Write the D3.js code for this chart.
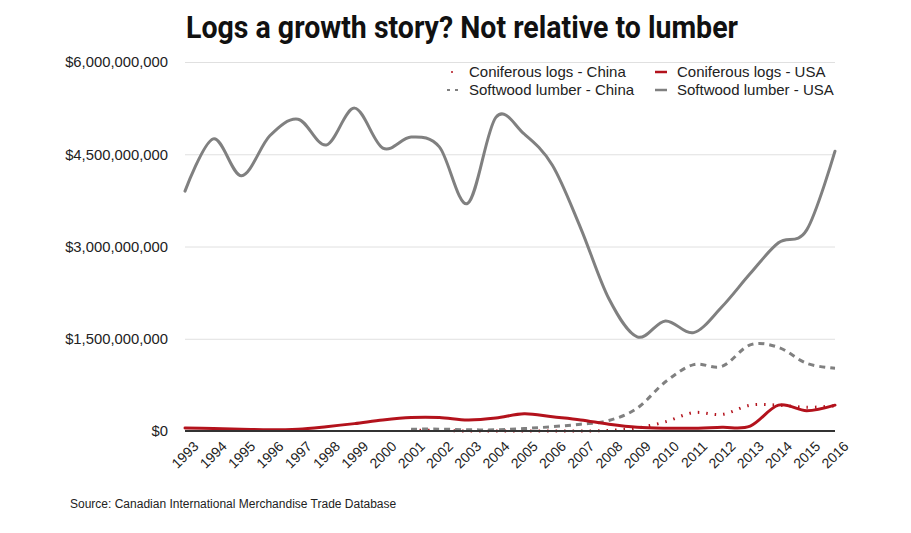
<!DOCTYPE html>
<html>
<head>
<meta charset="utf-8">
<script src="https://cdn.jsdelivr.net/npm/d3@7"></script>
<style>
  body { margin: 0; background: #fff; }
  text { font-family: "Liberation Sans", Arial, sans-serif; fill: #222; }
</style>
</head>
<body>
<svg width="911" height="533"></svg>
<script>
var years = d3.range(1993, 2017);
var yTicks = [0, 1.5e9, 3e9, 4.5e9, 6e9];

// values in billions of dollars
var softwoodUSA = [3.9, 4.75, 4.15, 4.8, 5.07, 4.65, 5.25, 4.6, 4.78, 4.62, 3.7, 5.1,
                   4.83, 4.32, 3.3, 2.15, 1.53, 1.79, 1.6, 2.02, 2.56, 3.06, 3.27, 4.55];
var softwoodChina = [null, null, null, null, null, null, null, null, 0.03, 0.03, 0.02, 0.02,
                     0.04, 0.07, 0.11, 0.17, 0.37, 0.8, 1.08, 1.05, 1.4, 1.36, 1.1, 1.02];
var logsUSA = [0.05, 0.04, 0.03, 0.02, 0.03, 0.07, 0.12, 0.18, 0.22, 0.22, 0.18, 0.21,
               0.28, 0.23, 0.18, 0.11, 0.06, 0.045, 0.045, 0.06, 0.08, 0.42, 0.33, 0.42];
var logsChina = [null, null, null, null, null, null, null, null, 0.01, 0.01, 0.0, 0.0,
                 0.0, 0.0, 0.0, 0.01, 0.05, 0.15, 0.3, 0.27, 0.42, 0.42, 0.385, 0.41];

var red = "#b3121c", grey = "#808080";

var series = [
  {name: "Coniferous logs - China", values: logsChina, color: red, dash: "1.5,7", width: 3},
  {name: "Softwood lumber - China", values: softwoodChina, color: grey, dash: "6,5", width: 3},
  {name: "Coniferous logs - USA", values: logsUSA, color: red, dash: null, width: 3},
  {name: "Softwood lumber - USA", values: softwoodUSA, color: grey, dash: null, width: 3}
];

var svg = d3.select("svg"),
    margin = {top: 62, right: 76, bottom: 102, left: 185},
    width = +svg.attr("width") - margin.left - margin.right,
    height = +svg.attr("height") - margin.top - margin.bottom;

var x = d3.scaleLinear().domain([1993, 2016]).range([0, width]),
    y = d3.scaleLinear().domain([0, 6e9]).range([height, 0]);

svg.append("text")
    .attr("x", 186)
    .attr("y", 38)
    .attr("textLength", 552)
    .attr("lengthAdjust", "spacingAndGlyphs")
    .style("font-family", "Roboto, sans-serif")
    .style("font-weight", "bold")
    .style("font-size", "32px")
    .style("fill", "#111")
    .text("Logs a growth story? Not relative to lumber");

var g = svg.append("g")
    .attr("transform", "translate(" + margin.left + "," + margin.top + ")");

// gridlines + y labels
var yAxis = g.append("g")
    .call(d3.axisLeft(y).tickValues(yTicks).tickSize(-width)
      .tickFormat(function(d) { return "$" + d3.format(",")(d); }));
yAxis.select(".domain").remove();
yAxis.selectAll(".tick line").attr("stroke", "#e0e0e0");
yAxis.selectAll(".tick text")
    .attr("x", -17)
    .style("font-size", "14.8px")
    .style("font-family", "'Liberation Sans', Arial, sans-serif")
    .attr("fill", "#222");

// x labels
var xAxis = g.append("g")
    .attr("transform", "translate(0," + height + ")")
    .call(d3.axisBottom(x).tickValues(years).tickFormat(d3.format("d")).tickSize(0));
xAxis.select(".domain").remove();
xAxis.selectAll(".tick text")
    .attr("text-anchor", "end")
    .attr("dy", 0)
    .attr("transform", "translate(12,14) rotate(-45)")
    .style("font-size", "14px")
    .style("font-family", "'Liberation Sans', Arial, sans-serif")
    .attr("fill", "#222");

var line = d3.line()
    .defined(function(d) { return d != null; })
    .x(function(d, i) { return x(years[i]); })
    .y(function(d) { return y(d * 1e9); })
    .curve(d3.curveCatmullRom.alpha(0));

series.forEach(function(s) {
  g.append("path")
      .datum(s.values)
      .attr("fill", "none")
      .attr("stroke", s.color)
      .attr("stroke-width", s.width)
      .attr("stroke-linecap", s.dash ? "butt" : "round")
      .attr("stroke-dasharray", s.dash)
      .attr("d", line);
});

// baseline
g.append("line")
    .attr("x1", 0).attr("x2", width)
    .attr("y1", y(0)).attr("y2", y(0))
    .attr("stroke", "#333")
    .attr("stroke-width", 2);

// legend
var legend = svg.append("g");
var legendPos = [[447, 72], [447, 90], [655, 72], [655, 90]];
series.forEach(function(s, i) {
  var p = legendPos[i];
  var lg = legend.append("g").attr("transform", "translate(" + p[0] + "," + p[1] + ")");
  if (s.dash === "1.5,7") {
    lg.append("circle").attr("cx", 5).attr("cy", 0).attr("r", 1).attr("fill", s.color);
  } else {
    lg.append("line")
        .attr("x1", 0).attr("x2", 12).attr("y1", 0).attr("y2", 0)
        .attr("stroke", s.color)
        .attr("stroke-width", s.dash ? 2 : 2.5)
        .attr("stroke-dasharray", s.dash ? "3,5" : null);
  }
  lg.append("text")
      .attr("x", 22)
      .attr("y", 5)
      .style("font-size", "15px")
      .text(s.name);
});

svg.append("text")
    .attr("x", 70)
    .attr("y", 508)
    .style("font-size", "12px")
    .text("Source: Canadian International Merchandise Trade Database");
</script>
</body>
</html>
